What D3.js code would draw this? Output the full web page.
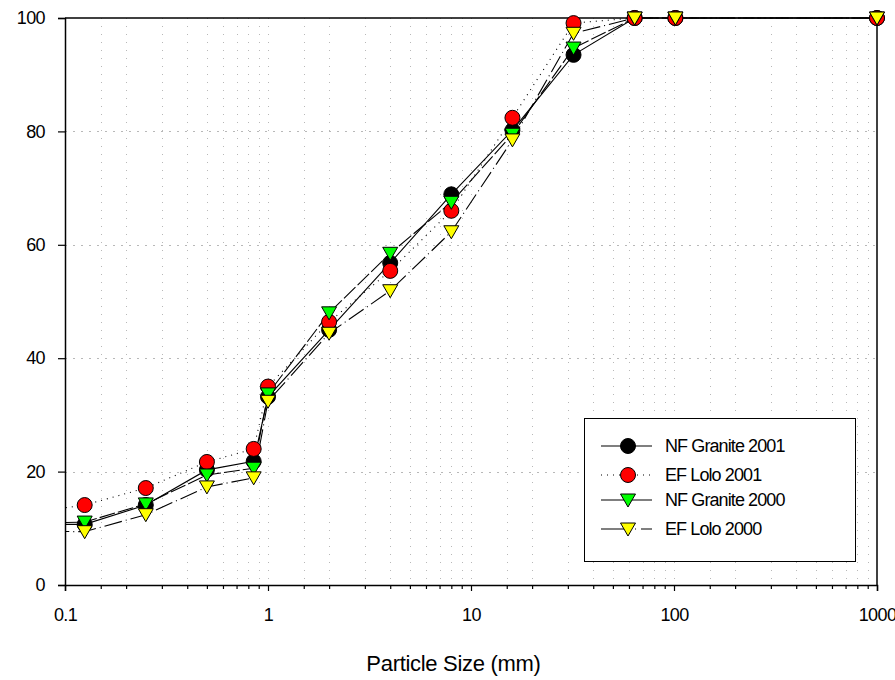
<!DOCTYPE html>
<html>
<head>
<meta charset="utf-8">
<title>Particle size distribution</title>
<script src="https://cdn.jsdelivr.net/npm/d3@7"></script>
<style>
body { margin: 0; background: #fff; }
text { font-family: "Liberation Sans", Arial, sans-serif; fill: #000; }
</style>
</head>
<body>
<script>
// sieve sizes (mm); first one sits left of the axis and only shows as the line entering the plot
var sizes = [0.063, 0.125, 0.25, 0.5, 0.85, 1, 2, 4, 8, 16, 32, 64, 101.6, 1000];
var nfGranite2001 = [10.7, 10.7, 14.1, 20.3, 21.8, 33.2, 45.0, 56.8, 68.9, 80.2, 93.5, 100, 100, 100];
var efLolo2001 = [12.6, 14.1, 17.1, 21.7, 24.0, 35.0, 46.4, 55.4, 66.0, 82.4, 99.1, 100, 100, 100];
var nfGranite2000 = [10.9, 11.1, 14.3, 19.4, 20.6, 33.7, 48.0, 58.5, 67.5, 79.5, 94.7, 100, 100, 100];
var efLolo2000 = [9.5, 9.4, 12.4, 17.3, 18.9, 32.4, 44.4, 51.9, 62.3, 78.5, 97.3, 100, 100, 100];
var seriesNames = ["NF Granite 2001", "EF Lolo 2001", "NF Granite 2000", "EF Lolo 2000"];
var xTickLabels = ["0.1", "1", "10", "100", "1000"];
var yTickValues = [0, 20, 40, 60, 80, 100];

var series = [
  {name: seriesNames[0], values: nfGranite2001, shape: "circle", fill: "#000000", dash: null},
  {name: seriesNames[1], values: efLolo2001, shape: "circle", fill: "#ff0000", dash: "1,5"},
  {name: seriesNames[2], values: nfGranite2000, shape: "tri", fill: "#00ff00", dash: "16,3"},
  {name: seriesNames[3], values: efLolo2000, shape: "tri", fill: "#ffff00", dash: "18,4,1,4"}
];

var W = 895, H = 680;
var m = {left: 65, right: 18, top: 18, bottom: 95};

var svg = d3.select("body").append("svg")
    .attr("width", W)
    .attr("height", H);

var x = d3.scaleLog().domain([0.1, 1000]).range([m.left, W - m.right]);
var y = d3.scaleLinear().domain([0, 100]).range([H - m.bottom, m.top]);

// minor positions 1.5, 2..9 in each decade
var minors = [];
[0.1, 1, 10, 100].forEach(function(d){
  [1.5, 2, 3, 4, 5, 6, 7, 8, 9].forEach(function(k){ minors.push(d * k); });
});
var majors = xTickLabels.map(Number);

// grid
var grid = svg.append("g").attr("stroke", "#b8b8b8").attr("stroke-width", 1);
grid.selectAll(".vg")
    .data(minors.concat([1, 10, 100]))
  .enter().append("line")
    .attr("x1", function(d){ return Math.round(x(d)) + 0.5; })
    .attr("x2", function(d){ return Math.round(x(d)) + 0.5; })
    .attr("y1", y(100)).attr("y2", y(0))
    .attr("stroke-dasharray", "1,7");
grid.selectAll(".hg")
    .data([20, 40, 60, 80])
  .enter().append("line")
    .attr("x1", x(0.1)).attr("x2", x(1000))
    .attr("y1", function(d){ return Math.round(y(d)) + 0.5; })
    .attr("y2", function(d){ return Math.round(y(d)) + 0.5; })
    .attr("stroke-dasharray", "2,6");

// legend box sits above the grid
svg.append("rect")
    .attr("x", 584.5).attr("y", 418.5)
    .attr("width", 271).attr("height", 143)
    .attr("fill", "#fff").attr("stroke", "#000").attr("stroke-width", 1);

// axes
var xAxis = svg.append("g")
    .attr("transform", "translate(0," + y(0) + ")")
    .call(d3.axisBottom(x).tickValues(majors).tickSize(6).tickFormat(function(d, i){ return xTickLabels[i]; }));
svg.append("g")
    .attr("transform", "translate(0," + y(0) + ")")
    .call(d3.axisBottom(x).tickValues(minors).tickSize(4).tickFormat(""))
    .call(function(g){ g.select(".domain").remove(); });
var yAxis = svg.append("g")
    .attr("transform", "translate(" + x(0.1) + ",0)")
    .call(d3.axisLeft(y).tickValues(yTickValues).tickSize(7));

svg.selectAll(".domain").attr("stroke-width", 1.5);
svg.selectAll(".tick line").attr("stroke-width", 1.2);
xAxis.selectAll("text").attr("font-size", 18).attr("letter-spacing", -0.6)
    .attr("font-family", "Liberation Sans, Arial, sans-serif").attr("y", 36).attr("dy", null);
yAxis.selectAll("text").attr("font-size", 18).attr("letter-spacing", -0.6)
    .attr("font-family", "Liberation Sans, Arial, sans-serif").attr("x", -20);

// frame top and right
svg.append("line").attr("x1", x(0.1)).attr("x2", x(1000)).attr("y1", y(100)).attr("y2", y(100))
    .attr("stroke", "#000").attr("stroke-width", 1.5);
svg.append("line").attr("x1", x(1000)).attr("x2", x(1000)).attr("y1", y(100)).attr("y2", y(0))
    .attr("stroke", "#000").attr("stroke-width", 1.5);

svg.append("text")
    .attr("x", 453.5)
    .attr("y", 671)
    .attr("text-anchor", "middle")
    .attr("font-size", 22)
    .attr("letter-spacing", -0.3)
    .text("Particle Size (mm)");

// lines
svg.append("clipPath").attr("id", "clip")
  .append("rect").attr("x", x(0.1)).attr("y", y(100) - 1)
    .attr("width", x(1000) - x(0.1)).attr("height", y(0) - y(100) + 1);

var line = d3.line()
    .x(function(d){ return x(d[0]); })
    .y(function(d){ return y(d[1]); });

var lineG = svg.append("g").attr("clip-path", "url(#clip)");
series.forEach(function(s){
  lineG.append("path")
      .datum(sizes.map(function(v, i){ return [v, s.values[i]]; }))
      .attr("d", line)
      .attr("fill", "none")
      .attr("stroke", "#000")
      .attr("stroke-width", 1.1)
      .attr("stroke-dasharray", s.dash);
});

// markers
var triPath = "M-7.5,-6L7.5,-6L0,7Z";
function drawMarker(g, s, cx, cy){
  if (s.shape == "circle") {
    g.append("circle").attr("cx", cx).attr("cy", cy).attr("r", 7.5)
        .attr("fill", s.fill).attr("stroke", "#000").attr("stroke-width", 1);
  } else {
    g.append("path").attr("d", triPath)
        .attr("transform", "translate(" + cx + "," + cy + ")")
        .attr("fill", s.fill).attr("stroke", "#000").attr("stroke-width", 1);
  }
}
var markG = svg.append("g");
series.forEach(function(s){
  sizes.forEach(function(v, i){
    if (v < 0.1) return;
    drawMarker(markG, s, x(v), y(s.values[i]));
  });
});

// legend
var legRows = [446, 475, 500, 529];
var legG = svg.append("g");
series.forEach(function(s, i){
  var ly = legRows[i];
  legG.append("line").attr("x1", 601).attr("x2", 652).attr("y1", ly).attr("y2", ly)
      .attr("stroke", "#000").attr("stroke-width", 1.1)
      .attr("stroke-dasharray", i == 1 ? "1,5" : (i == 3 ? "24,4,1,5,1,5" : null));
  drawMarker(legG, s, 628, ly);
  legG.append("text")
      .attr("x", 665).attr("y", ly).attr("dy", "0.36em")
      .attr("font-size", 18)
      .attr("letter-spacing", -0.9)
      .text(s.name);
});
</script>
</body>
</html>
